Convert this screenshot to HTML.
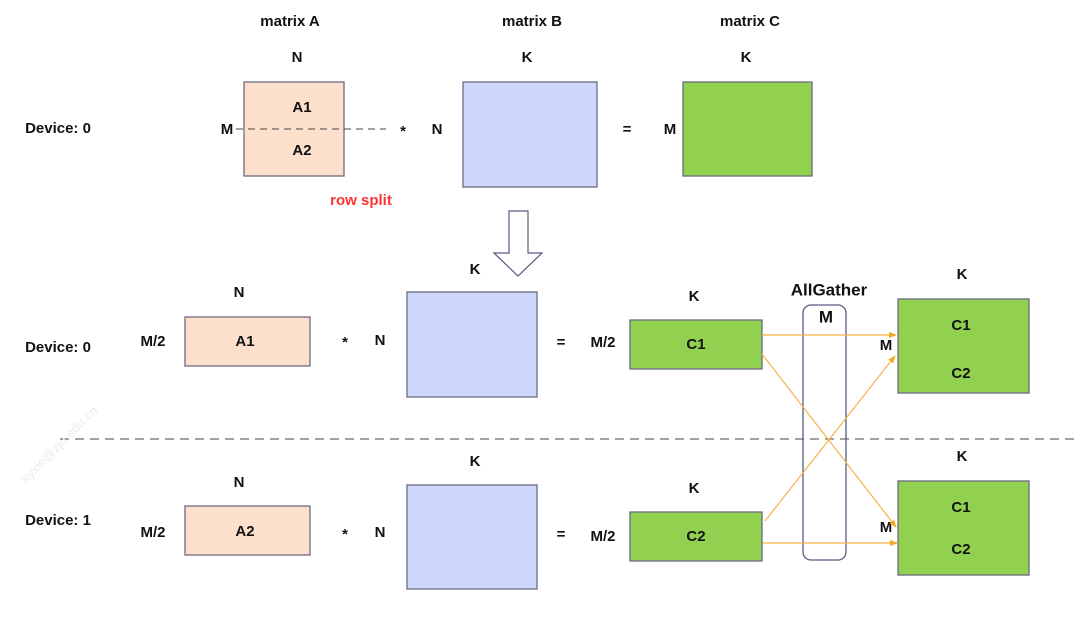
<!DOCTYPE html>
<html><head><meta charset="utf-8"><style>
html,body{margin:0;padding:0;background:#fff;}
svg{display:block;}
text{font-family:"Liberation Sans",sans-serif;font-weight:bold;font-size:15px;fill:#111;text-anchor:middle;dominant-baseline:middle;}
</style></head><body>
<svg width="1080" height="629" viewBox="0 0 1080 629">
<defs><marker id="ah" markerWidth="8" markerHeight="8" refX="7" refY="4" orient="auto" markerUnits="userSpaceOnUse"><path d="M0,1 L8,4 L0,7 Z" fill="#f5a623"/></marker></defs>
<text x="290" y="22">matrix A</text>
<text x="532" y="22">matrix B</text>
<text x="750" y="22">matrix C</text>
<text x="297" y="58">N</text><text x="527" y="58">K</text><text x="746" y="58">K</text>
<text x="58" y="129">Device: 0</text>
<rect x="244" y="82" width="100" height="94" fill="#fde0cc" stroke="#6b6b80" stroke-width="1.3"/>
<line x1="236" y1="129" x2="386" y2="129" stroke="#444" stroke-dasharray="7,5"/>
<text x="227" y="130">M</text><text x="302" y="108">A1</text><text x="302" y="151">A2</text>
<text x="403" y="132">*</text><text x="437" y="130">N</text>
<rect x="463" y="82" width="134" height="105" fill="#cfd6fc" stroke="#6b6b80" stroke-width="1.3"/>
<text x="627" y="130">=</text><text x="670" y="130">M</text>
<rect x="683" y="82" width="129" height="94" fill="#92d050" stroke="#6b6b80" stroke-width="1.3"/>
<text x="361" y="201" style="fill:#ff3333">row split</text>
<path d="M509,211 H528 V253 H542 L518,276 L494,253 H509 Z" fill="#fff" stroke="#555a80" stroke-width="1.2"/>

<text x="58" y="348">Device: 0</text>
<text x="239" y="293">N</text><text x="153" y="342">M/2</text>
<rect x="185" y="317" width="125" height="49" fill="#fde0cc" stroke="#6b6b80" stroke-width="1.3"/>
<text x="245" y="342">A1</text>
<text x="345" y="343">*</text><text x="380" y="341">N</text>
<text x="475" y="270">K</text>
<rect x="407" y="292" width="130" height="105" fill="#cfd6fc" stroke="#6b6b80" stroke-width="1.3"/>
<text x="561" y="343">=</text><text x="603" y="343">M/2</text>
<text x="694" y="297">K</text>
<rect x="630" y="320" width="132" height="49" fill="#92d050" stroke="#6b6b80" stroke-width="1.3"/>
<text x="696" y="345">C1</text>

<line x1="60" y1="439" x2="1080" y2="439" stroke="#444" stroke-dasharray="9,6"/>

<text x="58" y="521">Device: 1</text>
<text x="239" y="483">N</text><text x="153" y="533">M/2</text>
<rect x="185" y="506" width="125" height="49" fill="#fde0cc" stroke="#6b6b80" stroke-width="1.3"/>
<text x="245" y="532">A2</text>
<text x="345" y="535">*</text><text x="380" y="533">N</text>
<text x="475" y="462">K</text>
<rect x="407" y="485" width="130" height="104" fill="#cfd6fc" stroke="#6b6b80" stroke-width="1.3"/>
<text x="561" y="535">=</text><text x="603" y="537">M/2</text>
<text x="694" y="489">K</text>
<rect x="630" y="512" width="132" height="49" fill="#92d050" stroke="#6b6b80" stroke-width="1.3"/>
<text x="696" y="537">C2</text>

<text x="829" y="291" style="font-size:17px">AllGather</text>
<rect x="803" y="305" width="43" height="255" rx="8" fill="none" stroke="#555a80" stroke-width="1.3"/>
<text x="826" y="318" style="font-size:17px">M</text>

<text x="962" y="275">K</text>
<rect x="898" y="299" width="131" height="94" fill="#92d050" stroke="#6b6b80" stroke-width="1.3"/>
<text x="961" y="326">C1</text><text x="961" y="374">C2</text>
<text x="886" y="346">M</text>
<text x="962" y="457">K</text>
<rect x="898" y="481" width="131" height="94" fill="#92d050" stroke="#6b6b80" stroke-width="1.3"/>
<text x="961" y="508">C1</text><text x="961" y="550">C2</text>
<text x="886" y="528">M</text>

<g stroke="#f7b24a" stroke-width="1.2" fill="none" marker-end="url(#ah)">
<line x1="762" y1="335" x2="896" y2="335"/>
<line x1="762" y1="354" x2="896" y2="527"/>
<line x1="765" y1="521" x2="895" y2="356"/>
<line x1="763" y1="543" x2="897" y2="543"/>
</g>
<text x="60" y="445" transform="rotate(-45 60 445)" style="font-weight:normal;font-size:13px;fill:#ececec">kyxie@zju.edu.cn</text>
</svg>
</body></html>
